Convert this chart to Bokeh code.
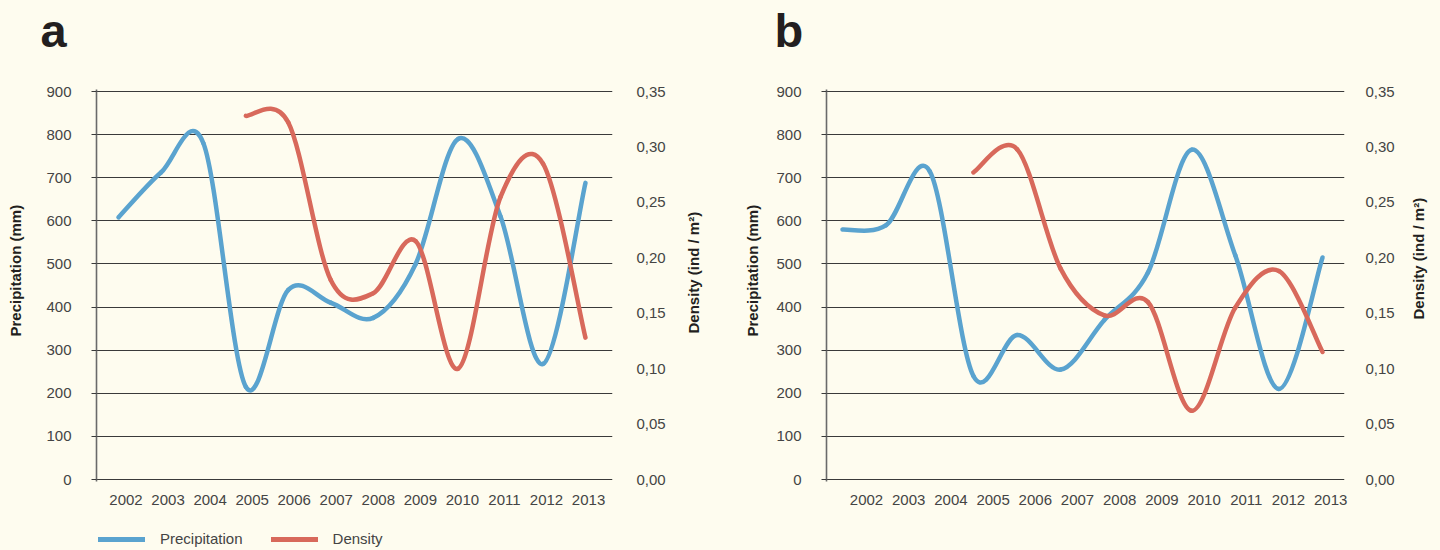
import math
from bokeh.plotting import figure
from bokeh.models import (Range1d, LinearAxis, FixedTicker, Label, Legend,
                          LegendItem, ColumnDataSource, Title)
from bokeh.layouts import row, column
from bokeh.embed import file_html
from bokeh.resources import INLINE

# ---------------- data ----------------
years = [2002, 2003, 2004, 2005, 2006, 2007, 2008, 2009, 2010, 2011, 2012, 2013]
year_labels = [str(y) for y in years]
density_years = [2005, 2006, 2007, 2008, 2009, 2010, 2011, 2012, 2013]

precip_a = [608, 712, 780, 215, 440, 410, 375, 500, 790, 610, 268, 688]
density_a = [0.328, 0.322, 0.180, 0.168, 0.215, 0.100, 0.255, 0.285, 0.128]

precip_b = [580, 590, 715, 240, 335, 255, 370, 480, 765, 520, 210, 515]
density_b = [0.277, 0.298, 0.190, 0.148, 0.160, 0.062, 0.155, 0.188, 0.115]

precip_ticks = [0, 100, 200, 300, 400, 500, 600, 700, 800, 900]
density_ticks = [0.00, 0.05, 0.10, 0.15, 0.20, 0.25, 0.30, 0.35]
density_tick_labels = ["0,00", "0,05", "0,10", "0,15", "0,20", "0,25", "0,30", "0,35"]

# ---------------- style ----------------
BG = "#fefcef"
BLUE = "#5aa3cf"
RED = "#d8695b"
GRID = "#3a3a3a"
TXT = "#444444"
DARK = "#231f20"
FONT = "Liberation Sans"
LW = 4.5
TOP_H = 60          # strip holding the panel letters
FRAME_TOP, FRAME_BOT = 89.0, 481.0   # page y of the plotting frame
BGSTYLE = {"background-color": BG}


def smooth_source(xs, ys):
    """Catmull-Rom curve through the data, expressed as cubic Bezier segments."""
    n = len(xs)
    d = dict(x0=[], y0=[], x1=[], y1=[], cx0=[], cy0=[], cx1=[], cy1=[])
    for i in range(n - 1):
        im = max(i - 1, 0)
        ip = min(i + 2, n - 1)
        d["x0"].append(xs[i]); d["y0"].append(ys[i])
        d["x1"].append(xs[i + 1]); d["y1"].append(ys[i + 1])
        d["cx0"].append(xs[i] + (xs[i + 1] - xs[im]) / 6.0)
        d["cy0"].append(ys[i] + (ys[i + 1] - ys[im]) / 6.0)
        d["cx1"].append(xs[i + 1] - (xs[ip] - xs[i]) / 6.0)
        d["cy1"].append(ys[i + 1] - (ys[ip] - ys[i]) / 6.0)
    return ColumnDataSource(d)


def blank(w, h, left=0):
    return figure(width=w, height=h, x_range=Range1d(0, 1), y_range=Range1d(0, 1),
                  x_axis_type=None, y_axis_type=None,
                  min_border_left=left, min_border_right=0,
                  min_border_top=0, min_border_bottom=0,
                  outline_line_color=None, background_fill_color=BG, border_fill_color=BG,
                  output_backend="svg", toolbar_location=None, styles=BGSTYLE)


def title_strip(w, h, text, right_edge, start_y):
    # vertical title read from bottom to top; its frame lines up with the chart frame
    s = 4
    f = blank(w, h, left=int(round(right_edge + s / 2)))
    f.add_layout(Title(text=text, align="left", offset=FRAME_BOT - start_y,
                       standoff=s, vertical_align="bottom", text_font=FONT,
                       text_font_style="bold", text_font_size="15px",
                       text_color=DARK), "left")
    return f


def make_chart(precip, density, g):
    left, right = g["chart_left"], g["chart_right"]
    frame_l, frame_r = g["frame_l"], g["frame_r"]
    y0_px, y900_px = 479.0, 91.0
    ppu = (y0_px - y900_px) / 900.0
    x_first, sp = g["x_first"], g["spacing"]

    def X(px):
        return years[0] + (px - x_first) / sp

    def Y(py):
        return (y0_px - py) / ppu

    h = g["chart_h"]
    p = figure(width=right - left, height=h, output_backend="svg", toolbar_location=None,
               x_range=Range1d(X(frame_l), X(frame_r)),
               y_range=Range1d(Y(FRAME_BOT), Y(FRAME_TOP)),
               min_border_left=int(frame_l - left),
               min_border_right=int(right - frame_r),
               min_border_top=int(FRAME_TOP - TOP_H),
               min_border_bottom=int(TOP_H + h - FRAME_BOT),
               background_fill_color=BG, border_fill_color=BG, outline_line_color=None,
               styles=BGSTYLE)
    dens_scale = 0.35 / 900.0
    p.extra_y_ranges = {"dens": Range1d(Y(FRAME_BOT) * dens_scale, Y(FRAME_TOP) * dens_scale)}

    p.xgrid.visible = False
    p.ygrid.ticker = FixedTicker(ticks=precip_ticks)
    p.ygrid.grid_line_color = GRID
    p.ygrid.grid_line_width = 1.2

    ya = p.yaxis[0]
    ya.ticker = FixedTicker(ticks=precip_ticks)
    ya.axis_line_color = "#6a6a6a"
    ya.axis_line_width = 1.6
    ya.major_tick_in = 0
    ya.major_tick_out = 5
    ya.major_tick_line_color = GRID
    ya.major_tick_line_width = 1.2
    ya.minor_tick_line_color = None
    ya.major_label_standoff = 20
    ya.major_label_text_font = FONT
    ya.major_label_text_font_size = "15px"
    ya.major_label_text_color = TXT

    tick_pos = [round(X(g["lab_first"] + k * g["lab_sp"]), 5) for k in range(len(years))]
    xa = p.xaxis[0]
    xa.ticker = FixedTicker(ticks=tick_pos)
    xa.major_label_overrides = {t: s for t, s in zip(tick_pos, year_labels)}
    xa.axis_line_color = None
    xa.major_tick_line_color = None
    xa.minor_tick_line_color = None
    xa.major_tick_out = 0
    xa.major_tick_in = 0
    xa.major_label_standoff = 13
    xa.major_label_text_font = FONT
    xa.major_label_text_font_size = "15px"
    xa.major_label_text_color = TXT

    ra = LinearAxis(y_range_name="dens", ticker=FixedTicker(ticks=density_ticks))
    ra.major_label_overrides = {t: s for t, s in zip(density_ticks, density_tick_labels)}
    ra.axis_line_color = None
    ra.major_tick_line_color = None
    ra.minor_tick_line_color = None
    ra.major_tick_out = 0
    ra.major_tick_in = 0
    ra.major_label_standoff = g["r_standoff"]
    ra.major_label_text_font = FONT
    ra.major_label_text_font_size = "15px"
    ra.major_label_text_color = TXT
    p.add_layout(ra, "right")

    p.bezier(x0="x0", y0="y0", x1="x1", y1="y1", cx0="cx0", cy0="cy0",
             cx1="cx1", cy1="cy1", source=smooth_source(years, precip),
             line_color=BLUE, line_width=LW, line_cap="round")
    p.bezier(x0="x0", y0="y0", x1="x1", y1="y1", cx0="cx0", cy0="cy0",
             cx1="cx1", cy1="cy1", source=smooth_source(density_years, density),
             line_color=RED, line_width=LW, line_cap="round", y_range_name="dens")
    return p


def make_panel(letter, precip, density, g, with_legend=False):
    fig_left = g["fig_left"]
    h = g["chart_h"]
    page_bottom = TOP_H + h
    # letter strip
    top = blank(720, TOP_H)
    top.add_layout(Label(x=g["letter_x"] - fig_left, y=TOP_H - 30, x_units="screen",
                         y_units="screen", text=letter, text_font=FONT,
                         text_font_style="bold", text_font_size="47px", text_color=DARK,
                         text_align="left", text_baseline="middle"))
    # axis-title strips
    lt = title_strip(g["chart_left"] - fig_left, h, "Precipitation (mm)",
                     g["lt_x"] + 8 - fig_left, g["lt_y"] + 66)
    chart = make_chart(precip, density, g)
    rt = title_strip(fig_left + 720 - g["chart_right"], h, "Density (ind / m²)",
                     g["rt_x"] + 8 - g["chart_right"], g["rt_y"] + 61)
    parts = [top, row(lt, chart, rt, styles=BGSTYLE)]
    if with_legend:
        lh = 550 - page_bottom
        lf = blank(720, lh)
        src = ColumnDataSource(dict(x=[-10.0, -9.0], y=[-10.0, -10.0]))
        r1 = lf.line("x", "y", source=src, line_color=BLUE, line_width=5, line_cap="round")
        r2 = lf.line("x", "y", source=src, line_color=RED, line_width=5, line_cap="round")
        lg = Legend(items=[LegendItem(label="Precipitation", renderers=[r1]),
                           LegendItem(label="Density", renderers=[r2])],
                    location=(98 - fig_left, lh - (539 - page_bottom) - 8),
                    orientation="horizontal",
                    glyph_width=47, glyph_height=16, label_height=16,
                    label_standoff=15, spacing=28, padding=0, margin=0,
                    label_text_font=FONT, label_text_font_size="15px",
                    label_text_color=TXT, background_fill_alpha=0,
                    border_line_color=None)
        lf.add_layout(lg)
        parts.append(lf)
    return column(*parts, styles=BGSTYLE)


geom_a = dict(fig_left=0, chart_left=40, chart_right=672, chart_h=452,
              frame_l=96, frame_r=612, x_first=118, spacing=42.45,
              lab_first=125.5, lab_sp=42.05, r_standoff=24,
              letter_x=40, lt_x=15, lt_y=270, rt_x=693, rt_y=272)
geom_b = dict(fig_left=720, chart_left=770, chart_right=1400, chart_h=490,
              frame_l=826, frame_r=1344, x_first=842, spacing=43.64,
              lab_first=866, lab_sp=42.2, r_standoff=21,
              letter_x=774, lt_x=752, lt_y=270, rt_x=1418, rt_y=258)

panel_a = make_panel("a", precip_a, density_a, geom_a, with_legend=True)
panel_b = make_panel("b", precip_b, density_b, geom_b)

layout = row(panel_a, panel_b, styles=BGSTYLE)
html = file_html(layout, INLINE, title="Precipitation and density")
html = html.replace("<body>", '<body style="background-color:%s;">' % BG, 1)
open("out.html", "w").write(html)
